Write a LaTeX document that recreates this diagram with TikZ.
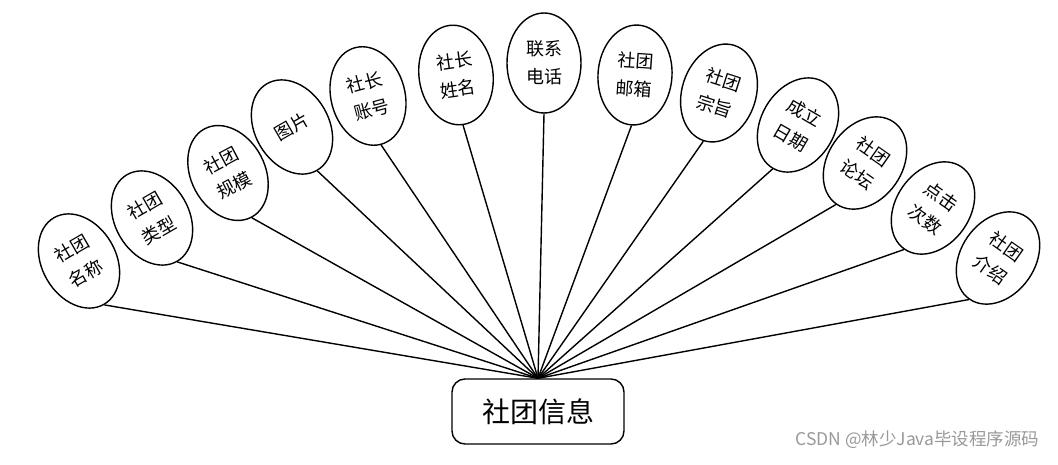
\documentclass[tikz,border=0pt]{standalone}
\usepackage{fontspec}
\newfontfamily\cjk{Noto Sans CJK SC}
\usetikzlibrary{shapes.geometric}
\tikzset{
  attr/.style={ellipse, draw=black, line width=1.4pt, fill=white,
    minimum width=74pt, minimum height=100pt, inner sep=0pt,
    align=center, font=\cjk\fontsize{18pt}{28pt}\selectfont},
  hubbox/.style={draw=black, line width=1.4pt, rounded corners=13pt, fill=white,
    minimum width=172pt, minimum height=65pt, font=\cjk\fontsize{28pt}{32pt}\selectfont},
  link/.style={draw=black, line width=1.4pt},
  wm/.style={font=\cjk\fontsize{17.5pt}{20pt}\selectfont, text=black!40}
}
\begin{document}
\begin{tikzpicture}[x=1pt,y=-1pt]
\useasboundingbox[fill=white] (0,0) rectangle (1058,465);
\node[hubbox] (hub) at (538,411.5) {社团信息};
\node[attr, rotate=30]  (a1)  at (79,261)  {社团\\名称};
\node[attr, rotate=30]  (a2)  at (152,218) {社团\\类型};
\node[attr, rotate=28]  (a3)  at (228,173) {社团\\规模};
\node[attr, rotate=30]  (a4)  at (292,127) {图片};
\node[attr, rotate=15]  (a5)  at (368,96)  {社长\\账号};
\node[attr, rotate=8]   (a6)  at (456,75)  {社长\\姓名};
\node[attr, rotate=0]   (a7)  at (544,63)  {联系\\电话};
\node[attr, rotate=-4]  (a8)  at (635,75)  {社团\\邮箱};
\node[attr, rotate=-18] (a9)  at (719,93)  {社团\\宗旨};
\node[attr, rotate=-30] (a10) at (798,125) {成立\\日期};
\node[attr, rotate=-35] (a11) at (865,163) {社团\\论坛};
\node[attr, rotate=-35] (a12) at (933,208) {点击\\次数};
\node[attr, rotate=-35] (a13) at (998,258) {社团\\介绍};
\foreach \i in {1,...,13} {
  \draw[link] (hub.north) -- (a\i.south);
}
\node[wm, anchor=east] (wmark) at (1043,440) {CSDN @林少Java毕设程序源码};
\end{tikzpicture}
\end{document}
